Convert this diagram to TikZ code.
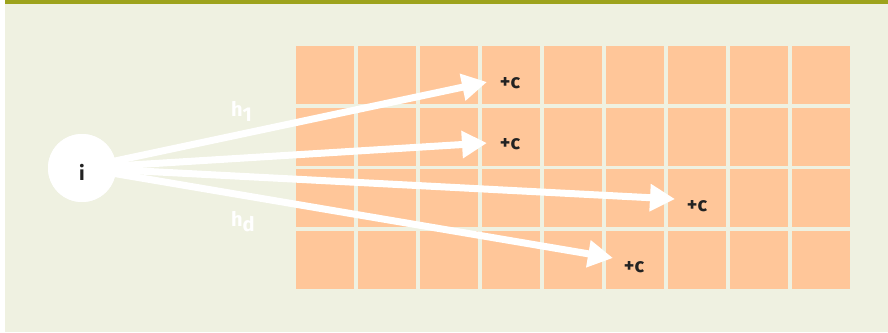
\documentclass[tikz,border=0pt]{standalone}
\usepackage{fontspec}
\setmainfont{Fira Sans}
\usetikzlibrary{arrows.meta}
\definecolor{bgc}{HTML}{EFF1E1}
\definecolor{barc}{HTML}{9DA31C}
\definecolor{cellc}{HTML}{FFC699}
\definecolor{txt}{HTML}{222222}
\tikzset{
  cell/.style={fill=cellc, draw=none},
  ray/.style={draw=white, line width=7pt, -{Triangle[length=25pt,width=26pt]}},
  plusc/.style={font=\fontsize{20}{20}\selectfont\bfseries, text=txt, inner sep=0pt},
  hlab/.style={font=\fontsize{20}{20}\selectfont\bfseries, text=white, inner sep=0pt},
}
\begin{document}
\begin{tikzpicture}[x=1pt,y=-1pt]
\useasboundingbox (0,0) rectangle (888,332);
\fill[white] (0,0) rectangle (888,332);
\fill[bgc] (5,0) rectangle (888,332);
\fill[barc] (5,0) rectangle (888,4);
\foreach \c in {0,...,8}{
  \foreach \r in {0,...,3}{
    \fill[cellc] ({296+62*\c},{46+61.5*\r}) rectangle ++(58,58);
  }
}
\node[circle, fill=white, minimum size=68pt, inner sep=0pt] (i) at (82,168) {};
\coordinate (t1) at (487,82);
\coordinate (t2) at (487,143);
\coordinate (t3) at (675,199);
\coordinate (t4) at (613,258);
\draw[ray] (i.center) -- (t1);
\draw[ray] (i.center) -- (t2);
\draw[ray] (i.center) -- (t3);
\draw[ray] (i.center) -- (t4);
\node[circle, fill=white, minimum size=68pt, inner sep=0pt] at (i.center) {};
\node[plusc] (il) at (82,172) {i};
\node[plusc] (c1) at (510,83) {+c};
\node[plusc] (c2) at (510,144) {+c};
\node[plusc] (c3) at (697,206) {+c};
\node[plusc] (c4) at (634,267) {+c};
\node[hlab, anchor=base west] (h1) at (231,116) {h\raisebox{-5pt}{1}};
\node[hlab, anchor=base west] (hd) at (231,226) {h\raisebox{-5pt}{d}};
\end{tikzpicture}
\end{document}
